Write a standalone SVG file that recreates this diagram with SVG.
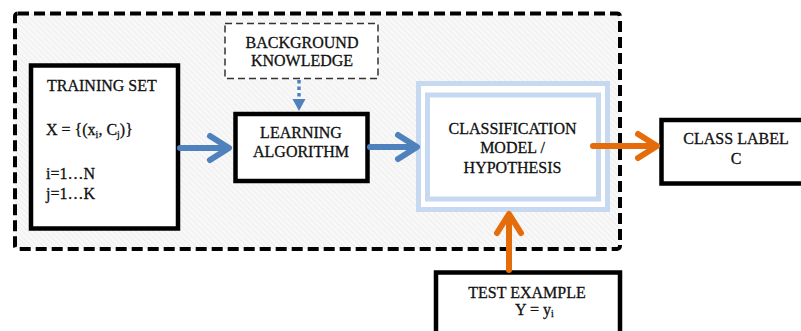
<svg xmlns="http://www.w3.org/2000/svg" width="801" height="331" viewBox="0 0 801 331">
<defs>
<pattern id="hatch" width="4" height="4" patternUnits="userSpaceOnUse" patternTransform="rotate(-45)">
<rect width="4" height="4" fill="#f8f8f8"/>
<line x1="0" y1="0" x2="0" y2="4" stroke="#ebebeb" stroke-width="1.5"/>
</pattern>
<style>
text{font-family:"Liberation Serif","Times New Roman",serif;font-size:16px;fill:#111;stroke:#111;stroke-width:0.3}
.c{text-anchor:middle}
.box{fill:#fff;stroke:#000;stroke-width:4.5}
.blue{stroke:#4f81bd;stroke-width:6;fill:none;stroke-linecap:round;stroke-linejoin:round}
.orange{stroke:#e46c0a;stroke-width:6;fill:none;stroke-linecap:round;stroke-linejoin:round}
.sub{font-size:10px}
</style>
</defs>
<rect width="801" height="331" fill="#fff"/>
<g id="region">
<rect x="15" y="13.5" width="605" height="235.5" rx="3" fill="url(#hatch)" stroke="#000" stroke-width="4" stroke-dasharray="11 5"/>
</g>
<g id="training-set">
<rect class="box" x="31" y="65.5" width="147" height="163"/>
<text x="47" y="91">TRAINING SET</text>
<text x="46" y="135">X = {(x<tspan class="sub" dy="3">i</tspan><tspan dy="-3">, C</tspan><tspan class="sub" dy="3">j</tspan><tspan dy="-3">)}</tspan></text>
<text x="46" y="178.5">i=1…N</text>
<text x="46" y="199">j=1…K</text>
</g>
<g id="background-knowledge">
<rect x="225" y="23.5" width="153" height="55" fill="#fff" stroke="#333" stroke-width="1.5" stroke-dasharray="7 4"/>
<text class="c" x="302" y="48">BACKGROUND</text>
<text class="c" x="302" y="66">KNOWLEDGE</text>
</g>
<g id="learning-algorithm">
<rect class="box" x="235.5" y="114" width="132" height="67"/>
<text class="c" x="301" y="137.5">LEARNING</text>
<text class="c" x="301" y="157">ALGORITHM</text>
</g>
<g id="classification-model">
<rect x="418.5" y="83.5" width="189" height="126" fill="#fff" stroke="#c6d9f1" stroke-width="5"/>
<rect x="427.5" y="95" width="171" height="104" fill="#fff" stroke="#c6d9f1" stroke-width="5"/>
<text class="c" x="512.5" y="133.5">CLASSIFICATION</text>
<text class="c" x="512.5" y="153">MODEL /</text>
<text class="c" x="512.5" y="172.5">HYPOTHESIS</text>
</g>
<g id="class-label">
<rect class="box" x="661.5" y="120" width="150" height="63.5"/>
<text class="c" x="736" y="144">CLASS LABEL</text>
<text class="c" x="736" y="163.5">C</text>
</g>
<g id="test-example">
<rect class="box" x="436" y="272.5" width="184" height="70"/>
<text class="c" x="527" y="297.5">TEST EXAMPLE</text>
<text x="515" y="315">Y = y<tspan class="sub" dy="2">i</tspan></text>
</g>
<g id="connectors">
<line class="blue" x1="180" y1="148" x2="227" y2="148" stroke-linecap="butt"/>
<polyline class="blue" points="210,136 229,148 210,160"/>
<line class="blue" x1="370" y1="147" x2="415" y2="147" stroke-linecap="butt"/>
<polyline class="blue" points="398,135 417,147 398,159"/>
<line x1="299" y1="80" x2="299" y2="100" stroke="#4f81bd" stroke-width="3.5" stroke-dasharray="3.5 3"/>
<polygon points="292.5,99 305.5,99 299,111" fill="#4f81bd"/>
<line class="orange" x1="593" y1="146" x2="655" y2="146" stroke-linecap="butt"/>
<polyline class="orange" points="638,134 657,146 638,158"/>
<line class="orange" x1="509" y1="270" x2="509" y2="216" stroke-linecap="butt"/>
<polyline class="orange" points="497,233 509,214 521,233"/>
</g>
</svg>
